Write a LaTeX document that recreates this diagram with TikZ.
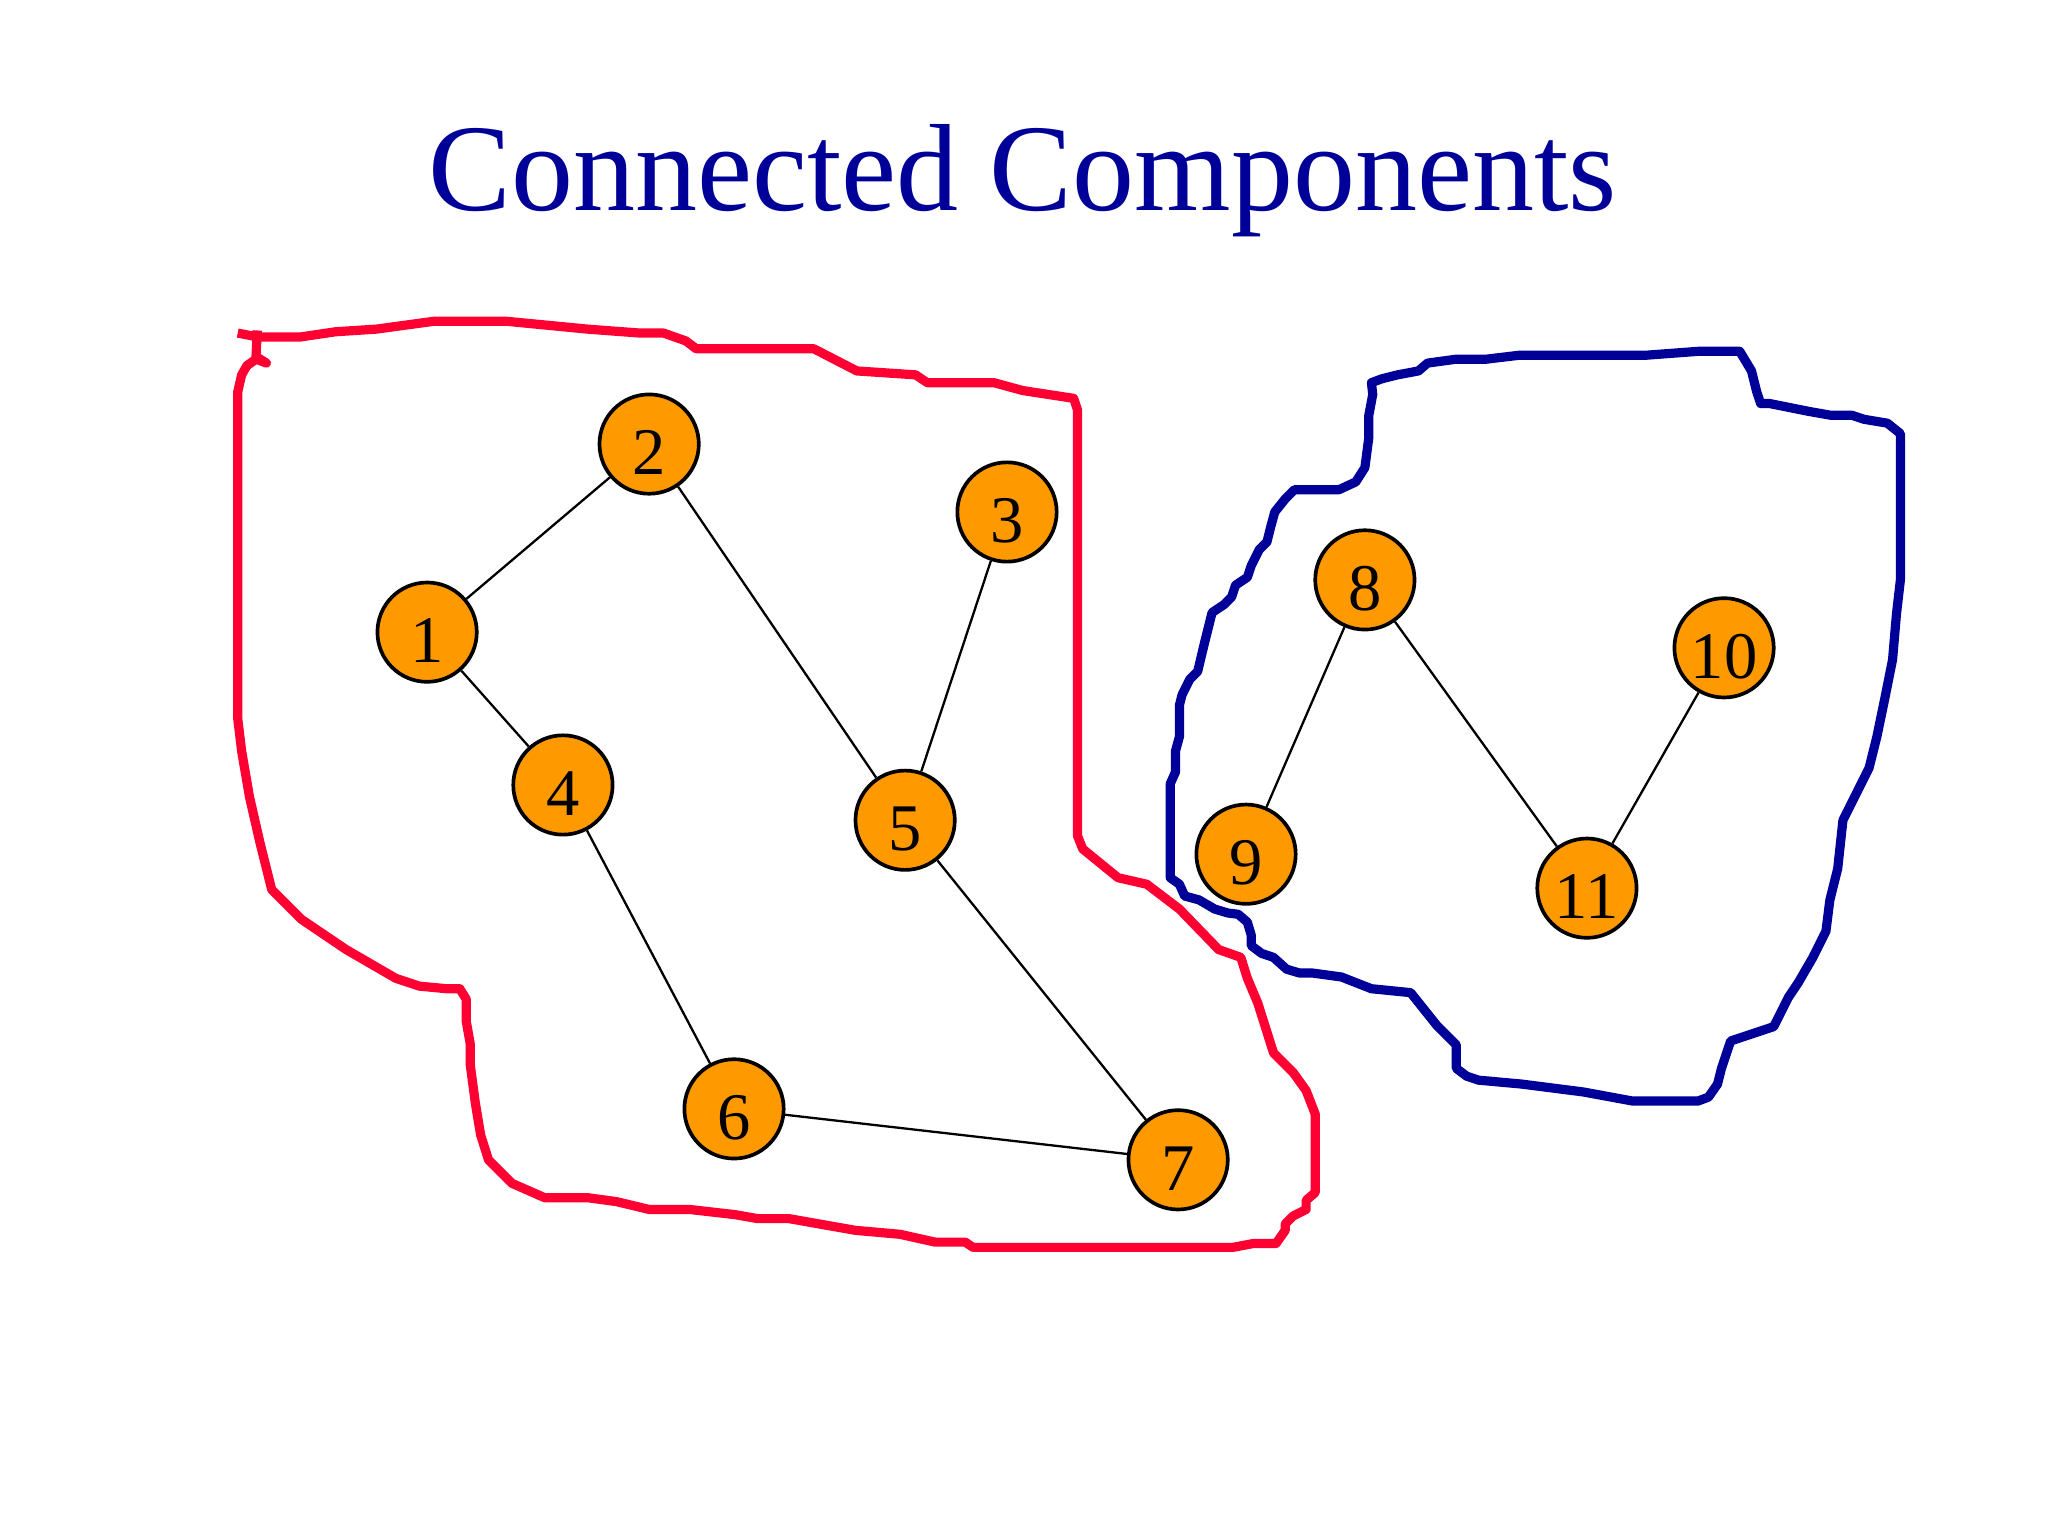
\documentclass[tikz,border=0pt]{standalone}
\usepackage{fontspec}
\setmainfont{Liberation Serif}
\definecolor{tblue}{HTML}{000099}
\definecolor{tred}{HTML}{FF0033}
\definecolor{torange}{HTML}{FF9900}
\newcommand{\vlab}[1]{\smash{\raisebox{-1ex}{#1}}}
\begin{document}
\begin{tikzpicture}[x=0.01cm,y=-0.01cm,
  vert/.style={circle,draw=black,thick,fill=torange,minimum size=0.76cm,inner sep=0pt,font=\fontsize{14.5}{14.5}\selectfont},
  edge/.style={draw=black,line width=0.5pt},
  hull/.style={line width=2pt,line join=round}]
\useasboundingbox (0,0) rectangle (1568,1176);
\node[font=\fontsize{27}{27}\selectfont,text=tblue] (title) at (783,138) {Connected Components};
\draw[hull,tred] (182,255)--(197,258)--(230,258)--(257,254)--(288,252)--(332,246)--(388,246)--(450,252)--(490,255)--(508,255)--(525,261)--(533,267)--(623,267)--(656,284)--(701,287)--(710,293)--(761,293)--(783,299)--(822,305)--(825,314)--(825,640)--(829,650)--(856,672)--(878,677)--(903,696)--(933,727)--(950,733)--(955,749)--(963,768)--(975,806)--(990,821)--(1000,835)--(1007,853)--(1007,913)--(1000,919)--(1000,926)--(990,931)--(984,937)--(984,942)--(977,952)--(960,952)--(944,955)--(745,955)--(739,951)--(716,951)--(689,945)--(655,942)--(604,933)--(580,933)--(563,930)--(528,926)--(497,926)--(472,920)--(450,917)--(417,917)--(392,906)--(374,888)--(368,869)--(364,845)--(360,815)--(360,799)--(357,782)--(357,765)--(352,757)--(342,757)--(321,755)--(303,749)--(265,727)--(231,704)--(208,681)--(199,645)--(191,610)--(185,575)--(182,550)--(182,300)--(185,287)--(189,280)--(196,275)--(204,278)--(196,273)--(197,253);
\draw[hull,tblue] (1050,293)--(1058,290)--(1070,287)--(1086,284)--(1093,278)--(1115,275)--(1138,275)--(1163,272)--(1260,272)--(1300,269)--(1332,269)--(1341,284)--(1345,300)--(1348,309)--(1355,309)--(1385,315)--(1402,318)--(1418,318)--(1427,321)--(1445,324)--(1455,332)--(1455,444)--(1452,470)--(1449,505)--(1443,535)--(1437,564)--(1431,588)--(1421,608)--(1411,628)--(1407,665)--(1401,689)--(1398,713)--(1388,733)--(1377,752)--(1369,764)--(1358,786)--(1325,797)--(1318,818)--(1315,830)--(1308,840)--(1300,843)--(1250,843)--(1212,836)--(1165,830)--(1132,827)--(1123,824)--(1115,818)--(1115,800)--(1100,785)--(1080,760)--(1050,757)--(1027,748)--(1005,745)--(995,745)--(985,742)--(975,733)--(966,730)--(958,724)--(958,716)--(955,706)--(948,700)--(940,699)--(930,696)--(918,689)--(907,686)--(903,677)--(896,672)--(896,600)--(900,591)--(900,575)--(903,564)--(903,540)--(905,532)--(911,520)--(917,514)--(922,493)--(928,469)--(937,463)--(943,457)--(946,448)--(955,442)--(958,433)--(964,421)--(970,415)--(973,403)--(976,392)--(984,382)--(991,375)--(1025,375)--(1038,369)--(1045,358)--(1048,335)--(1048,318)--(1051,302)--cycle;
\node[vert] (n1) at (327,484) {\vlab{1}};
\node[vert] (n2) at (497,340) {\vlab{2}};
\node[vert] (n3) at (771,392) {\vlab{3}};
\node[vert] (n4) at (431,601) {\vlab{4}};
\node[vert] (n5) at (693,628) {\vlab{5}};
\node[vert] (n6) at (562,849) {\vlab{6}};
\node[vert] (n7) at (902,888) {\vlab{7}};
\node[vert] (n8) at (1045,444) {\vlab{8}};
\node[vert] (n9) at (954,654) {\vlab{9}};
\node[vert] (n10) at (1320,496) {\vlab{10}};
\node[vert] (n11) at (1215,680) {\vlab{11}};
\draw[edge] (n1)--(n2); \draw[edge] (n1)--(n4); \draw[edge] (n2)--(n5);
\draw[edge] (n3)--(n5); \draw[edge] (n4)--(n6); \draw[edge] (n5)--(n7);
\draw[edge] (n6)--(n7); \draw[edge] (n8)--(n9); \draw[edge] (n8)--(n11);
\draw[edge] (n10)--(n11);
\end{tikzpicture}
\end{document}
